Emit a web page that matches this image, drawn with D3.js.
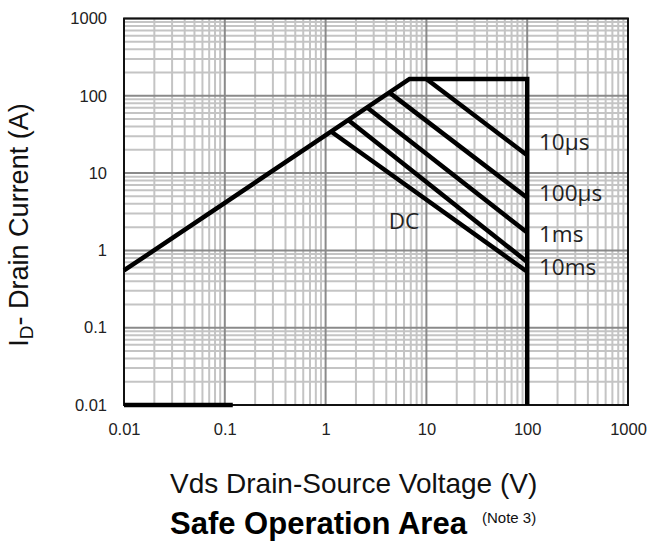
<!DOCTYPE html>
<html><head><meta charset="utf-8">
<script src="https://cdn.jsdelivr.net/npm/d3@7"></script>
<style>
body{margin:0;background:#fff;}
svg{display:block;font-family:"Liberation Sans",Arial,sans-serif;}
</style></head>
<body><svg id="c" width="651" height="544"></svg>
<script>
const xTicks = [0.01, 0.1, 1, 10, 100, 1000];
const yTicks = [0.01, 0.1, 1, 10, 100, 1000];
const xTickLabels = ["0.01", "0.1", "1", "10", "100", "1000"];
const yTickLabels = ["0.01", "0.1", "1", "10", "100", "1000"];

// boundary (RDS(on) limit / package limit / BVdss) polyline: [Vds, Id]
const limitV = [0.01, 6.8, 100, 100];
const limitI = [0.55, 165, 165, 0.01];
// pulse lines: start on limit, end at Vds=100
const pulseNames = ["10\u00b5s", "100\u00b5s", "1ms", "10ms", "DC"];
const pulseStartV = [10, 4.3, 2.6, 1.7, 1.15];
const pulseStartI = [165, 110, 70, 48, 34];
const pulseEndV = [100, 100, 100, 100, 100];
const pulseEndI = [17, 4.8, 1.7, 0.71, 0.53];
// bottom segment
const bottomV = [0.01, 0.12];
const bottomI = [0.01, 0.01];

const svg = d3.select("#c");
const L = 124, R = 628, T = 18.5, B = 405;
const x = d3.scaleLog().domain([0.01, 1000]).range([L, R]);
const y = d3.scaleLog().domain([0.01, 1000]).range([B, T]);

// grid
const minor = [];
for (let e = -2; e < 3; e++) for (let k = 2; k <= 9; k++) minor.push(k * Math.pow(10, e));
const g = svg.append("g");
g.selectAll(".vm").data(minor).join("line")
  .attr("x1", d => x(d)).attr("x2", d => x(d)).attr("y1", T).attr("y2", B)
  .attr("stroke", "#c4c4c4").attr("stroke-width", 2);
g.selectAll(".hm").data(minor).join("line")
  .attr("y1", d => y(d)).attr("y2", d => y(d)).attr("x1", L).attr("x2", R)
  .attr("stroke", "#c4c4c4").attr("stroke-width", 2);
g.selectAll(".vM").data(xTicks).join("line")
  .attr("x1", d => x(d)).attr("x2", d => x(d)).attr("y1", T).attr("y2", B)
  .attr("stroke", "#8a8a8a").attr("stroke-width", 2);
g.selectAll(".hM").data(yTicks).join("line")
  .attr("y1", d => y(d)).attr("y2", d => y(d)).attr("x1", L).attr("x2", R)
  .attr("stroke", "#8a8a8a").attr("stroke-width", 2);

// frame
svg.append("rect").attr("x", L).attr("y", T).attr("width", R - L).attr("height", B - T)
  .attr("fill", "none").attr("stroke", "#111").attr("stroke-width", 2);

// axes (labels only)
const xa = svg.append("g").attr("transform", `translate(0,${B})`)
  .call(d3.axisBottom(x).tickValues(xTicks).tickFormat((d, i) => xTickLabels[i]).tickSize(0).tickPadding(18));
const ya = svg.append("g").attr("transform", `translate(${L},0)`)
  .call(d3.axisLeft(y).tickValues(yTicks).tickFormat((d, i) => yTickLabels[i]).tickSize(0).tickPadding(17));
[xa, ya].forEach(a => {
  a.select(".domain").remove();
  a.selectAll("text").attr("font-size", 16.5).attr("fill", "#222").attr("font-family", "Liberation Sans, Arial, sans-serif");
});

// data lines
const line = d3.line().x(d => x(d[0])).y(d => y(d[1]));
function draw(pts) {
  svg.append("path").attr("d", line(pts))
    .attr("fill", "none").attr("stroke", "#000").attr("stroke-width", 4.5).attr("stroke-linejoin", "miter");
}
draw(limitV.map((v, i) => [v, limitI[i]]));
pulseNames.forEach((n, i) => draw([[pulseStartV[i], pulseStartI[i]], [pulseEndV[i], pulseEndI[i]]]));
draw(bottomV.map((v, i) => [v, bottomI[i]]));

// labels
const labY = [142, 193, 234, 267];
pulseNames.slice(0, 4).forEach((n, i) => {
  svg.append("text").attr("x", 539).attr("y", labY[i]).attr("dy", "0.36em")
    .attr("font-family", "Open Sans, Liberation Sans, sans-serif").attr("font-size", 22.5).attr("fill", "#222").text(n);
});
svg.append("text").attr("x", 404).attr("y", 221).attr("dy", "0.36em").attr("text-anchor", "middle")
  .attr("font-family", "Open Sans, Liberation Sans, sans-serif").attr("font-size", 22.5).attr("fill", "#222").text(pulseNames[4]);

// axis titles
svg.append("text").attr("x", 170).attr("y", 493)
  .attr("font-size", 28).attr("fill", "#111").text("Vds Drain-Source Voltage (V)");
const yt = svg.append("text").attr("transform", "translate(28,225) rotate(-90)").attr("text-anchor", "middle")
  .attr("font-size", 27).attr("fill", "#111");
yt.append("tspan").text("I");
yt.append("tspan").attr("font-size", 19).attr("dy", 5).text("D");
yt.append("tspan").attr("dy", -5).text("- Drain Current (A)");

// title
svg.append("text").attr("x", 170).attr("y", 534).attr("fill", "#000")
  .attr("font-size", 31).attr("font-weight", "bold").text("Safe Operation Area");
svg.append("text").attr("x", 482).attr("y", 523).attr("fill", "#111")
  .attr("font-size", 15).text("(Note 3)");
</script></body></html>
